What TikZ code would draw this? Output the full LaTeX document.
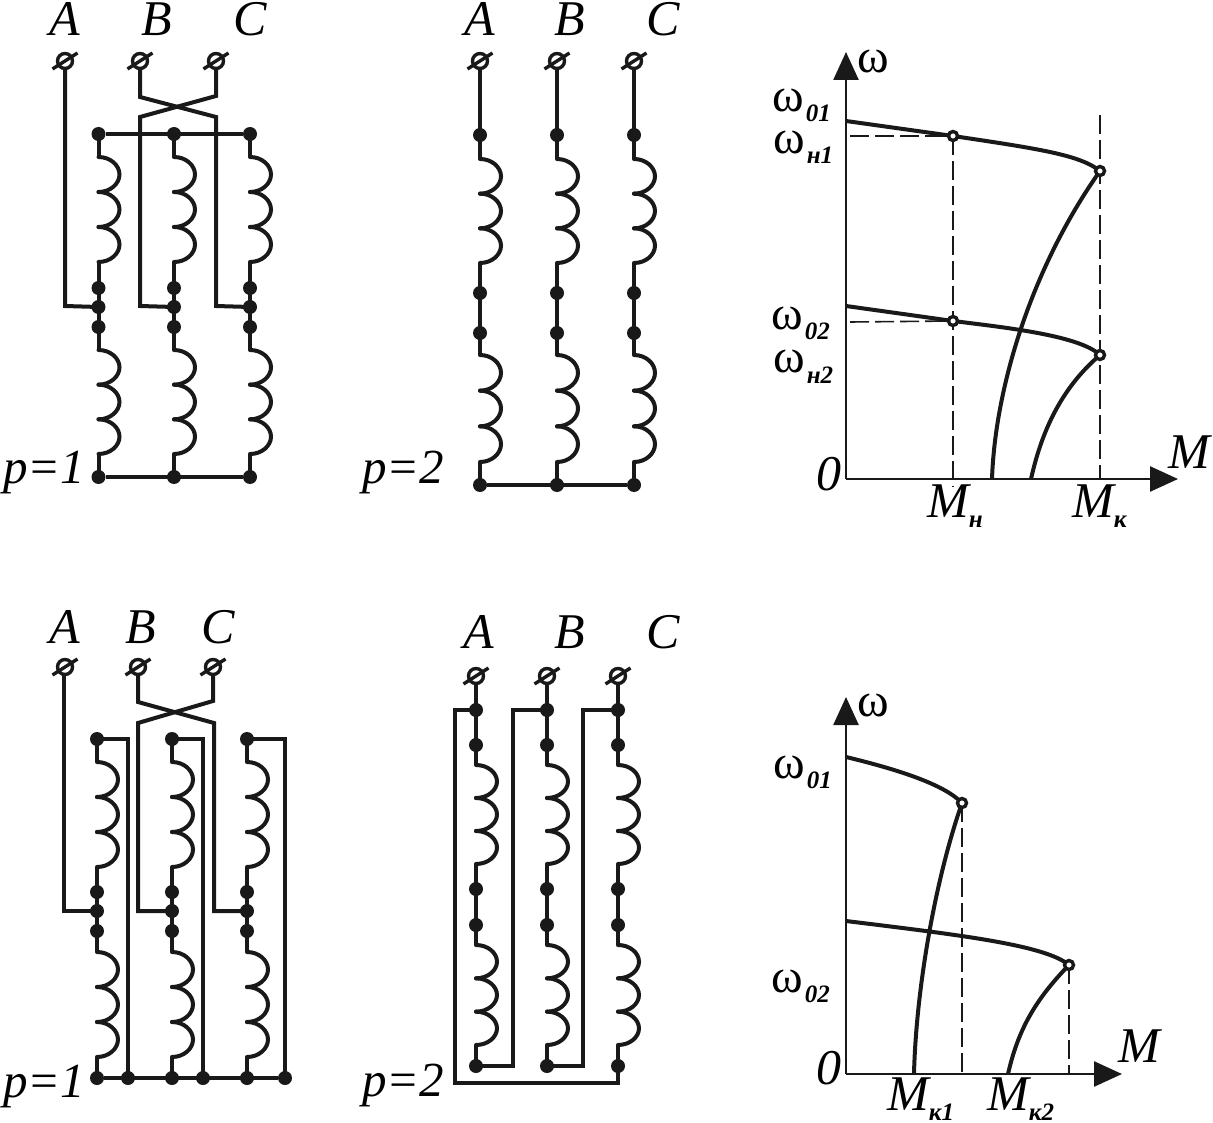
\documentclass[tikz,border=0pt]{standalone}
\usepackage{fontspec}
\setmainfont{Liberation Serif}
\usetikzlibrary{arrows.meta}
\tikzset{
  wire/.style={line width=4pt,black!90,line join=miter},
  curve/.style={line width=4pt,black!90},
  axisl/.style={line width=2.6pt,black!90},
  dashl/.style={line width=1.6pt,black!90,dash pattern=on 19pt off 6pt},
  dotn/.style={circle,fill=black!90,inner sep=0pt,minimum size=14pt},
  ring/.style={circle,draw=black!90,line width=3.4pt,fill=white,inner sep=0pt,minimum size=9pt},
  term/.style={circle,draw=black!90,line width=3.4pt,fill=white,inner sep=0pt,minimum size=15pt},
  lab/.style={font=\fontsize{50}{50}\selectfont\itshape,inner sep=0pt},
  plab/.style={font=\fontsize{49}{49}\selectfont\itshape,inner sep=0pt},
  om/.style={font=\fontsize{48}{48}\selectfont,inner sep=0pt},
  tip/.style={-{Triangle[length=28pt,width=25pt]}},
}
\newcommand{\subs}[1]{\raisebox{-10pt}{\fontsize{25}{25}\selectfont\bfseries\itshape #1}}
% coil: x, ytop, ybottom with three bumps
\newcommand{\coil}[3]{%
  \pgfmathsetmacro{\hh}{(#3-#2)/3}%
  \foreach \k in {0,1,2}{%
    \pgfmathsetmacro{\ys}{#2+\k*\hh}%
    \draw[wire,line cap=round] (#1,\ys) .. controls (#1+12,\ys) and (#1+21,\ys+0.24*\hh) .. (#1+21,\ys+0.5*\hh)
      .. controls (#1+21,\ys+0.76*\hh) and (#1+12,\ys+\hh) .. (#1,\ys+\hh);
  }}
% terminal: name, x, y
\newcommand{\terminal}[3]{%
  \node[term] (#1) at (#2,#3) {};
  \draw[line width=3.4pt,black!90] (#2-12.5,#3+8) -- (#2+12.5,#3-8);}
\begin{document}
\begin{tikzpicture}[x=1pt,y=-1pt]
\useasboundingbox (0,0) rectangle (1213,1123);
\fill[white] (0,0) rectangle (1213,1123);

%% ===== Panel 1 =====
\node[lab] (a1) at (65,19) {A}; \node[lab] (b1) at (157,19) {B}; \node[lab] (c1) at (250,19) {C};
\foreach \x/\n in {98.5/a,174/b,250/c}{
  \draw[wire] (\x,134) -- (\x,157); \coil{\x}{157}{262}
  \draw[wire] (\x,262) -- (\x,350); \coil{\x}{350}{454} \draw[wire] (\x,454) -- (\x,477);
  \foreach \y/\m in {134/t,288/u,307/v,327/w,477/z}{\node[dotn] (\n1\m) at (\x,\y) {};}
}
\draw[wire] (a1t) -- (c1t); \draw[wire] (a1z) -- (c1z);
\draw[wire] (65,61) -- (65,306) -- (a1v.center);
\draw[wire] (140,61) -- (140,97) -- (216,117) -- (216,306) -- (c1v.center);
\draw[wire] (216,61) -- (216,96) -- (140,117) -- (140,306) -- (b1v.center);
\terminal{ta1}{65}{61}\terminal{tb1}{140}{61}\terminal{tc1}{216}{61}
\node[plab,anchor=base west] (p1) at (3,483) {p=1};

%% ===== Panel 2 =====
\node[lab] (a2) at (480,19) {A}; \node[lab] (b2) at (570,19) {B}; \node[lab] (c2) at (663,19) {C};
\foreach \x/\n in {480/a,557/b,634/c}{
  \draw[wire] (\x,61) -- (\x,159); \coil{\x}{159}{263}
  \draw[wire] (\x,263) -- (\x,355); \coil{\x}{355}{462} \draw[wire] (\x,462) -- (\x,485);
  \foreach \y/\m in {135/t,293/u,333/v,485/z}{\node[dotn] (\n2\m) at (\x,\y) {};}
}
\draw[wire] (a2z) -- (c2z);
\terminal{ta2}{480}{61}\terminal{tb2}{557}{61}\terminal{tc2}{634}{61}
\node[plab,anchor=base west] (p2) at (362,483) {p=2};

%% ===== Graph 1 =====
\coordinate (o1) at (846,479);
\coordinate (o1u) at (846,52); \coordinate (o1r) at (1178,479);
\draw[axisl,tip] (o1) -- (o1u);
\draw[axisl,tip] (o1) -- (o1r);
\coordinate (g1a) at (953,136); \coordinate (g1b) at (1100,171);
\coordinate (g1c) at (953,321); \coordinate (g1d) at (1100,355);
\coordinate (g1ay) at (850,136); \coordinate (g1cy) at (850,322);
\draw[dashl] (g1ay) -- (g1a);
\draw[dashl] (g1cy) -- (g1c);
\draw[dashl] (g1a) -- (953,487);
\draw[dashl] (1100,115) -- (1100,479);
\draw[curve] (846,121) -- (g1a);
\draw[curve] (g1a) .. controls (1040,149) and (1080,155) .. (g1b);
\draw[curve] (846,306) -- (g1c);
\draw[curve] (g1c) .. controls (1010,328) and (1080,336) .. (g1d);
\draw[curve] (992,479) .. controls (995,390) and (1030,270) .. (g1b);
\draw[curve] (1031,479) .. controls (1043,425) and (1065,385) .. (g1d);
\node[ring] (r1a) at (g1a) {}; \node[ring] (r1b) at (g1b) {}; \node[ring] (r1c) at (g1c) {}; \node[ring] (r1d) at (g1d) {};
\node[om] (w1) at (873,61) {ω};
\node[om,anchor=base west] (w01) at (772,112) {ω\kern2pt\subs{01}};
\node[om,anchor=base west] (wn1) at (773,154) {ω\kern2pt\subs{н1}};
\node[om,anchor=base west] (w02) at (771,330) {ω\kern2pt\subs{02}};
\node[om,anchor=base west] (wn2) at (773,373) {ω\kern2pt\subs{н2}};
\node[lab] (z1) at (829,474) {0};
\node[lab,anchor=base west] (m1) at (1168,468) {M};
\node[lab,anchor=base west] (mn) at (927,517) {M\subs{н}};
\node[lab,anchor=base west] (mk) at (1072,517) {M\subs{к}};

%% ===== Panel 3 =====
\node[lab] (a3) at (65,627) {A}; \node[lab] (b3) at (141,627) {B}; \node[lab] (c3) at (218,627) {C};
\foreach \x/\n in {97/a,172/b,247/c}{
  \draw[wire] (\x,739) -- (\x,762); \coil{\x}{762}{867}
  \draw[wire] (\x,867) -- (\x,952); \coil{\x}{952}{1057} \draw[wire] (\x,1057) -- (\x,1078);
  \foreach \y/\m in {739/t,892/u,911/v,931/w,1078/z}{\node[dotn] (\n3\m) at (\x,\y) {};}
}
\draw[wire] (a3t.center) -- (128,739) -- (128,1078);
\draw[wire] (b3t.center) -- (203,739) -- (203,1078);
\draw[wire] (c3t.center) -- (285,739) -- (285,1078);
\node[dotn] (d3a) at (128,1078) {}; \node[dotn] (d3b) at (203,1078) {}; \node[dotn] (d3c) at (285,1078) {};
\draw[wire] (a3z) -- (d3c);
\draw[wire] (64,667) -- (64,911) -- (a3v.center);
\draw[wire] (138,667) -- (138,702) -- (214,723) -- (214,911) -- (c3v.center);
\draw[wire] (213,667) -- (213,701) -- (138,723) -- (138,911) -- (b3v.center);
\terminal{ta3}{65}{667}\terminal{tb3}{138}{667}\terminal{tc3}{213}{667}
\node[plab,anchor=base west] (p3) at (3,1097) {p=1};

%% ===== Panel 4 =====
\node[lab] (a4) at (479,632) {A}; \node[lab] (b4) at (570,632) {B}; \node[lab] (c4) at (663,632) {C};
\foreach \x/\n in {476/a,547/b,618/c}{
  \draw[wire] (\x,676) -- (\x,765); \coil{\x}{765}{864}
  \draw[wire] (\x,864) -- (\x,945); \coil{\x}{945}{1045} \draw[wire] (\x,1045) -- (\x,1066);
  \foreach \y/\m in {710/t,745/s,889/u,925/v,1066/z}{\node[dotn] (\n4\m) at (\x,\y) {};}
}
\draw[wire] (a4t.center) -- (455,710) -- (455,1083) -- (618,1083) -- (c4z.center);
\draw[wire] (a4z.center) -- (513,1066) -- (513,710) -- (b4t.center);
\draw[wire] (b4z.center) -- (583,1066) -- (583,710) -- (c4t.center);
\terminal{ta4}{476}{676}\terminal{tb4}{547}{676}\terminal{tc4}{618}{676}
\node[plab,anchor=base west] (p4) at (362,1096) {p=2};

%% ===== Graph 2 =====
\coordinate (o2) at (846,1074);
\draw[axisl,tip] (o2) -- (846,697);
\draw[axisl,tip] (o2) -- (1122,1074);
\coordinate (g2a) at (962,803); \coordinate (g2b) at (1069,965);
\draw[dashl] (g2a) -- (962,1074); \draw[dashl] (g2b) -- (1069,1074);
\draw[curve] (846,757) .. controls (900,770) and (945,785) .. (g2a);
\draw[curve] (914,1074) .. controls (916,990) and (935,880) .. (g2a);
\draw[curve] (846,921) .. controls (960,935) and (1045,945) .. (g2b);
\draw[curve] (1008,1074) .. controls (1018,1030) and (1035,1000) .. (g2b);
\node[ring] (r2a) at (g2a) {}; \node[ring] (r2b) at (g2b) {};
\node[om] (w2) at (873,705) {ω};
\node[om,anchor=base west] (w201) at (773,778) {ω\kern2pt\subs{01}};
\node[om,anchor=base west] (w202) at (771,992) {ω\kern2pt\subs{02}};
\node[lab] (z2) at (829,1068) {0};
\node[lab,anchor=base west] (m2) at (1118,1062) {M};
\node[lab,anchor=base west] (mk1) at (887,1110) {M\subs{к1}};
\node[lab,anchor=base west] (mk2) at (987,1110) {M\subs{к2}};
\end{tikzpicture}
\end{document}
